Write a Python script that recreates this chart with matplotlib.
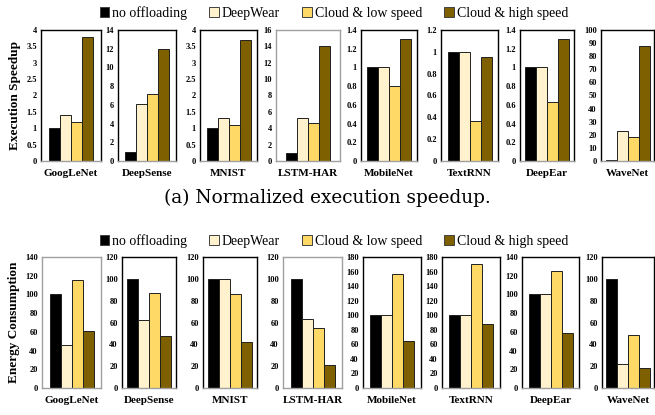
import numpy as np
import matplotlib
matplotlib.use('Agg')
from matplotlib import pyplot as plt
from matplotlib.patches import Patch

plt.rcParams['font.family'] = ['Liberation Serif', 'DejaVu Serif']

# data
models = ['GoogLeNet', 'DeepSense', 'MNIST', 'LSTM-HAR', 'MobileNet', 'TextRNN', 'DeepEar', 'WaveNet']
series = ['no offloading', 'DeepWear', 'Cloud & low speed', 'Cloud & high speed']
colors = ['#000000', '#FFF2CC', '#FFD966', '#7F6000']

speedup = [
    [1, 1.4, 1.2, 3.8],
    [1, 6.1, 7.2, 12],
    [1, 1.3, 1.1, 3.7],
    [1, 5.2, 4.6, 14.1],
    [1, 1, 0.8, 1.3],
    [1, 1, 0.37, 0.95],
    [1, 1, 0.63, 1.3],
    [1, 23, 18, 88],
]
speed_ylim = [(4, 0.5), (14, 2), (4, 0.5), (16, 2), (1.4, 0.2), (1.2, 0.2), (1.4, 0.2), (100, 10)]

energy = [
    [100, 46, 115, 61],
    [100, 62, 87, 48],
    [100, 100, 86, 42],
    [100, 63, 55, 21],
    [100, 100, 157, 65],
    [100, 100, 171, 88],
    [100, 100, 125, 59],
    [100, 22, 49, 18],
]
energy_ylim = [(140, 20), (120, 20), (120, 20), (120, 20), (180, 20), (180, 20), (140, 20), (120, 20)]

W, H = 655, 415
fig = plt.figure(figsize=(W / 100, H / 100), dpi=100)

# panel frames in pixels (left, right)
top_x = [(41, 101), (118, 176), (200, 257), (276, 340), (361, 417), (441, 498), (520, 574), (601, 654)]
bot_x = [(42, 101), (122, 176), (203, 257), (283, 342), (363, 421), (442, 500), (522, 579), (602, 654)]
top_frame = ['k', 'k', 'k', '#A0A0A0', 'k', 'k', 'k', 'k']
bot_frame = ['#A0A0A0', 'k', 'k', '#A0A0A0', 'k', 'k', 'k', 'k']


def draw_row(xs, y0, y1, data, ylims, frames, ylabel):
    axes = []
    for i, (x0, x1) in enumerate(xs):
        ax = fig.add_axes([x0 / W, 1 - y1 / H, (x1 - x0) / W, (y1 - y0) / H])
        pos = np.arange(4)
        ax.bar(pos, data[i], width=1.0, color=colors, edgecolor='#202020', linewidth=0.7)
        half = (x1 - x0) / 2 / 11.0
        ax.set_xlim(1.5 - half, 1.5 + half)
        top, step = ylims[i]
        ax.set_ylim(0, top)
        ticks = np.arange(0, top + step / 2, step)
        ax.set_yticks(ticks)
        ax.set_yticklabels(['%g' % t for t in ticks], fontsize=6, fontweight='bold')
        ax.tick_params(axis='y', length=0, pad=3)
        ax.set_xticks([])
        ax.set_xlabel(models[i], fontsize=8, fontweight='bold', labelpad=6)
        for s in ['left', 'right', 'top']:
            ax.spines[s].set_color(frames[i])
            ax.spines[s].set_linewidth(1.0)
        ax.spines['bottom'].set_color('#A0A0A0')
        ax.spines['bottom'].set_linewidth(1.0)
        axes.append(ax)
    axes[0].set_ylabel(ylabel, fontsize=9.5, fontweight='bold', labelpad=4)
    return axes


draw_row(top_x, 30, 161, speedup, speed_ylim, top_frame, 'Execution Speedup')
draw_row(bot_x, 257, 388, energy, energy_ylim, bot_frame, 'Energy Consumption')

handles = [Patch(facecolor=c, edgecolor='#404040', linewidth=0.7) for c in colors]
for ly in [13, 241]:
    fig.legend(handles, series, loc='center', bbox_to_anchor=(334 / W, 1 - ly / H), ncol=4,
               frameon=False, fontsize=10, handlelength=0.7, handleheight=0.7,
               handletextpad=0.2, columnspacing=1.6)

fig.text(327 / W, 1 - 198 / H, '(a) Normalized execution speedup.', ha='center', va='center',
         fontsize=13.3, family=['DejaVu Serif'])

fig.savefig('out.png', dpi=100)
